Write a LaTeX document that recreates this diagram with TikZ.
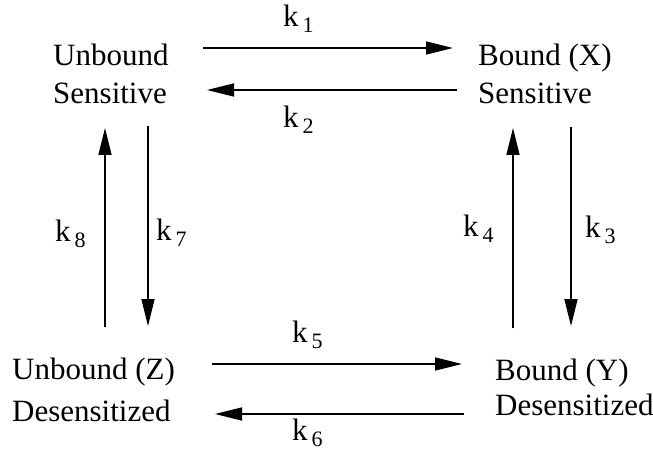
\documentclass[tikz,border=0pt]{standalone}
\usepackage{fontspec}
\setmainfont{Liberation Serif}
\usepackage{tikz}
\usetikzlibrary{arrows.meta, positioning}
\newcommand{\kconst}[1]{k\kern4pt\raisebox{-6pt}{\fontsize{22}{22}\selectfont #1}}
\tikzset{
  state/.style={
    anchor=base west,
    inner sep=0pt,
    align=left,
    font=\fontsize{31}{38}\selectfont,
  },
  rate/.style={
    anchor=base west,
    inner sep=0pt,
    font=\fontsize{31}{38}\selectfont,
  },
  arrow/.style={
    -{Triangle[length=27pt,width=13pt]},
    line width=1.6pt
  }
}
\begin{document}
\begin{tikzpicture}[x=1pt, y=-1pt]
  \useasboundingbox (0,0) rectangle (653,454);

  % Etats
  \node[state] (us) at (53,104) {Unbound\\Sensitive};
  \node[state] (bx) at (478,104) {Bound (X)\\Sensitive};
  \node[state] (uz) at (12,421) {Unbound (Z)\\[4pt]Desensitized};
  \node[state] (by) at (495,415) {Bound (Y)\\[-3pt]Desensitized};

  % Extremites des fleches
  \coordinate (k1a) at (203,48);  \coordinate (k1b) at (453,48);
  \coordinate (k2a) at (457,90);  \coordinate (k2b) at (207,90);
  \coordinate (k5a) at (212,364); \coordinate (k5b) at (462,364);
  \coordinate (k6a) at (464,414); \coordinate (k6b) at (215,414);
  \coordinate (k8a) at (105,327); \coordinate (k8b) at (105,128);
  \coordinate (k7a) at (148,126); \coordinate (k7b) at (148,326);
  \coordinate (k4a) at (513,328); \coordinate (k4b) at (513,128);
  \coordinate (k3a) at (571,127); \coordinate (k3b) at (571,326);

  % Fleches
  \draw[arrow] (k1a) -- (k1b);
  \draw[arrow] (k2a) -- (k2b);
  \draw[arrow] (k5a) -- (k5b);
  \draw[arrow] (k6a) -- (k6b);
  \draw[arrow] (k8a) -- (k8b);
  \draw[arrow] (k7a) -- (k7b);
  \draw[arrow] (k4a) -- (k4b);
  \draw[arrow] (k3a) -- (k3b);

  % Constantes
  \node[rate] (l1) at (283,27) {\kconst{1}};
  \node[rate] (l2) at (283,128) {\kconst{2}};
  \node[rate] (l3) at (585,238) {\kconst{3}};
  \node[rate] (l4) at (463,237) {\kconst{4}};
  \node[rate] (l5) at (292,342) {\kconst{5}};
  \node[rate] (l6) at (292,440) {\kconst{6}};
  \node[rate] (l7) at (156,241) {\kconst{7}};
  \node[rate] (l8) at (55,242) {\kconst{8}};
\end{tikzpicture}
\end{document}
